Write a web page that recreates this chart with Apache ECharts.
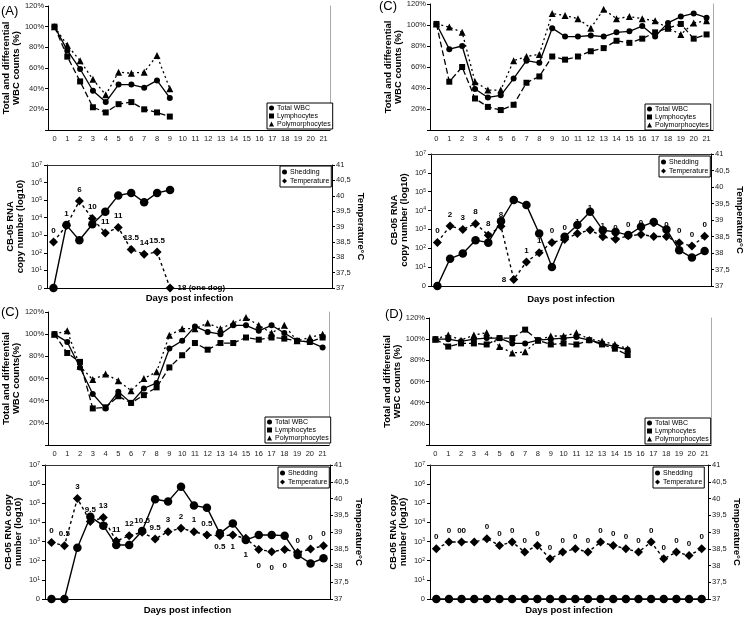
<!DOCTYPE html>
<html><head><meta charset="utf-8">
<script src="https://cdn.jsdelivr.net/npm/echarts@6/dist/echarts.min.js"></script>
<style>html,body{margin:0;padding:0;background:#fff}#c{width:746px;height:620px}</style>
</head><body><div id="c"></div>
<script>
// ---------- DATA ----------
const days = ['0','1','2','3','4','5','6','7','8','9','10','11','12','13','14','15','16','17','18','19','20','21'];
const wbcNames = ['Total WBC','Lymphocytes','Polymorphocytes'];
const rnaNames = ['Shedding','Temperature'];

// Panel (A)
const aTotalWBC = [100,77,59,38,27,44,44,41,48,31];
const aLympho   = [100,71,47,22,17,25,27,20,17,13];
const aPoly     = [100,82,67,49,34,56,55,56,72,40];
const aShedLog  = [0,3.58,2.72,3.63,4.34,5.27,5.41,4.88,5.41,5.58];
const aTemp     = [38.5,39.03,39.83,39.26,38.79,38.97,38.25,38.1,38.17,37.0];
const aTempLbl  = ['0','1','6','10','11','11','13.5','14','15.5','18 (one dog)'];

// Panel (C) top right
const c1TotalWBC = [101,77,80,39,31,33,49,66,64,97,89,89,90,89,93,94,99,89,102,108,111,107];
const c1Lympho   = [101,46,60,30,22,19,24,45,51,70,67,70,75,78,85,83,87,93,97,101,87,91];
const c1Poly     = [101,98,93,46,38,38,66,70,72,111,109,106,97,115,106,108,106,104,97,91,102,104];
const c1ShedLog  = [0,1.45,1.72,2.43,2.30,3.44,4.56,4.29,2.78,1.01,2.61,3.23,3.94,2.96,2.87,2.70,3.14,3.40,3.0,1.90,1.51,1.85];
const c1Temp     = [38.32,38.82,38.71,38.89,38.54,38.81,37.2,37.73,38.01,38.32,38.41,38.59,38.70,38.49,38.42,38.52,38.56,38.5,38.5,38.31,38.21,38.51];
const c1TempLbl  = ['0','2','3','8','8','8','8','1','1','0','0','1','1','1','0','0','0','0','0','0','0','0'];

// Panel (C) bottom left
const c2TotalWBC = [100,93,70,46,33,48,38,51,56,87,94,107,102,100,108,108,103,108,101,94,93,88];
const c2Lympho   = [100,83,75,33,34,44,38,45,52,70,81,92,86,92,92,97,95,97,96,94,93,97];
const c2Poly     = [100,103,71,59,64,58,49,60,66,99,105,105,110,105,110,115,108,101,108,94,97,100];
const c2ShedLog  = [0,0,2.68,4.30,3.83,2.82,2.82,3.55,5.21,5.09,5.87,4.88,4.77,3.43,3.95,3.08,3.34,3.34,3.31,2.30,1.86,2.13];
const c2Temp     = [38.69,38.59,40.0,39.31,39.43,38.73,38.89,38.99,38.79,39.01,39.11,39.01,38.91,38.89,38.91,38.81,38.48,38.41,38.48,38.39,38.49,38.59];
const c2TempLbl  = ['0','0.5','3','9.5','13','11','12','10.5','9.5','3','2','1','0.5','0.5','1','1','0','0','0','0','0','0'];

// Panel (D)
const dTotalWBC = [100,100,98,100,101,101,96,96,99,100,101,102,99,96,93,90];
const dLympho   = [100,93,96,96,95,101,101,109,99,95,96,95,99,95,91,85];
const dPoly     = [100,104,99,104,106,93,87,88,99,103,103,106,100,98,95,91];
const dShedLog  = [0,0,0,0,0,0,0,0,0,0,0,0,0,0,0,0,0,0,0,0,0,0];
const dTemp     = [38.5,38.7,38.7,38.7,38.8,38.6,38.7,38.4,38.6,38.2,38.4,38.5,38.4,38.7,38.6,38.5,38.4,38.7,38.2,38.4,38.3,38.5];
const dTempLbl  = ['0','0','00','','0','0','0','0','0','0','0','0','0','0','0','0','0','0','0','0','0','0'];

// ---------- CHART ----------
const FONT = '"Liberation Sans", Arial, sans-serif';
const option = {animation:false, backgroundColor:'#fff', textStyle:{fontFamily:FONT},
  grid:[], xAxis:[], yAxis:[], series:[], legend:[], graphic:[]};

const tickLbl = {fontSize:7.5, color:'#222', fontFamily:FONT};

function addWBC(box, total, lymph, poly, yName, lg) {
  const gi = option.grid.length;
  option.grid.push({left:box[0], top:box[1], width:box[2], height:box[3]});
  const xi = option.xAxis.length;
  option.xAxis.push({gridIndex:gi, type:'category', data:days, boundaryGap:true,
    axisLine:{lineStyle:{color:'#000', width:1}}, axisTick:{length:3, lineStyle:{color:'#000'}},
    axisLabel:Object.assign({margin:5, interval:0}, tickLbl)});
  const yi = option.yAxis.length;
  option.yAxis.push({gridIndex:gi, type:'value', min:0, max:120, interval:20,
    axisLine:{show:true, lineStyle:{color:'#000'}}, axisTick:{show:true, length:3, lineStyle:{color:'#000'}},
    splitLine:{show:false},
    axisLabel:Object.assign({margin:4, formatter:v => v === 0 ? '' : v + '%'}, tickLbl),
    name:yName, nameLocation:'middle', nameRotate:90, nameGap:19,
    nameTextStyle:{fontWeight:'bold', fontSize:9.5, lineHeight:10, color:'#000', fontFamily:FONT}});
  option.yAxis.push({gridIndex:gi, type:'value', position:'right', min:0, max:120,
    axisLine:{show:true, lineStyle:{color:'#aaa'}}, axisTick:{show:false}, axisLabel:{show:false}, splitLine:{show:false}});
  const common = {type:'line', xAxisIndex:xi, yAxisIndex:yi, color:'#000', z:3, showAllSymbol:true};
  option.series.push(Object.assign({name:wbcNames[0], data:total, symbol:'circle', symbolSize:6,
    lineStyle:{color:'#000', width:1.3, type:'solid'}, itemStyle:{color:'#000'}}, common));
  option.series.push(Object.assign({name:wbcNames[1], data:lymph, symbol:'rect', symbolSize:6,
    lineStyle:{color:'#000', width:1.3, type:[6,3]}, itemStyle:{color:'#000'}}, common));
  option.series.push(Object.assign({name:wbcNames[2], data:poly, symbol:'triangle', symbolSize:7,
    lineStyle:{color:'#000', width:1.3, type:[2,3]}, itemStyle:{color:'#000'}}, common));
  option.legend.push({orient:'vertical', left:lg[0], top:lg[1], padding:[1,2,1,2], itemGap:0,
    itemWidth:5, itemHeight:5, borderColor:'#000', borderWidth:1, backgroundColor:'#fff',
    textStyle:{fontSize:7, lineHeight:8, color:'#000', fontFamily:FONT, padding:[0,0,0,-2]},
    data:[{name:wbcNames[0], icon:'circle'},{name:wbcNames[1], icon:'rect'},{name:wbcNames[2], icon:'triangle'}],
    selectedMode:false});
}

function addRNA(box, shed, temp, tempLbl, lblPos, yName, xGap, lg) {
  const gi = option.grid.length;
  option.grid.push({left:box[0], top:box[1], width:box[2], height:box[3]});
  const xi = option.xAxis.length;
  option.xAxis.push({gridIndex:gi, type:'category', data:days, boundaryGap:true,
    axisLine:{lineStyle:{color:'#000'}}, axisTick:{show:false}, axisLabel:{show:false},
    name:'Days post infection', nameLocation:'middle', nameGap:xGap,
    nameTextStyle:{fontWeight:'bold', fontSize:9.5, color:'#000', fontFamily:FONT, verticalAlign:'top'}});
  option.xAxis.push({gridIndex:gi, type:'category', data:days, boundaryGap:true, position:'top',
    axisLine:{lineStyle:{color:'#333'}}, axisTick:{inside:true, length:3, lineStyle:{color:'#333'}}, axisLabel:{show:false}});
  const yi = option.yAxis.length;
  option.yAxis.push({gridIndex:gi, type:'value', min:0, max:7, interval:1,
    axisLine:{show:true, lineStyle:{color:'#000'}}, axisTick:{show:true, length:3, lineStyle:{color:'#000'}},
    splitLine:{show:false},
    axisLabel:Object.assign({margin:5, formatter:v => v === 0 ? '0' : '10{s|' + v + '}',
      rich:{s:{fontSize:5, verticalAlign:'top', lineHeight:6, color:'#222'}}}, tickLbl),
    name:yName, nameLocation:'middle', nameRotate:90, nameGap:22,
    nameTextStyle:{fontWeight:'bold', fontSize:9.5, lineHeight:10, color:'#000', fontFamily:FONT}});
  option.yAxis.push({gridIndex:gi, type:'value', position:'right', min:37, max:41, interval:0.5,
    axisLine:{show:true, lineStyle:{color:'#000'}}, axisTick:{show:true, length:3, lineStyle:{color:'#000'}},
    splitLine:{show:false},
    axisLabel:Object.assign({margin:4, formatter:v => String(v).replace('.', ',')}, tickLbl),
    name:'Temperature°C', nameLocation:'middle', nameRotate:-90, nameGap:24,
    nameTextStyle:{fontWeight:'bold', fontSize:9.5, color:'#000', fontFamily:FONT}});
  option.series.push({name:rnaNames[0], type:'line', xAxisIndex:xi, yAxisIndex:yi, data:shed, showAllSymbol:true,
    symbol:'circle', symbolSize:8.5, lineStyle:{color:'#000', width:1.4}, itemStyle:{color:'#000'}, z:3});
  const tdata = temp.map((t, i) => {
    const o = {value:t};
    if (lblPos[i]) o.label = lblPos[i];
    return o;
  });
  option.series.push({name:rnaNames[1], type:'line', xAxisIndex:xi, yAxisIndex:yi + 1, data:tdata, showAllSymbol:true,
    symbol:'diamond', symbolSize:9, lineStyle:{color:'#000', width:1.4, type:[3,3]}, itemStyle:{color:'#000'}, z:4,
    label:{show:true, position:'top', distance:3, fontSize:8, fontWeight:'bold', color:'#000', fontFamily:FONT,
      formatter:p => tempLbl[p.dataIndex]}});
  option.legend.push({orient:'vertical', left:lg[0], top:lg[1], padding:[2,2,2,2], itemGap:1,
    itemWidth:5, itemHeight:5, borderColor:'#000', borderWidth:1, backgroundColor:'#fff',
    textStyle:{fontSize:7, lineHeight:8, color:'#000', fontFamily:FONT, padding:[0,0,0,-2]},
    data:[{name:rnaNames[0], icon:'circle'},{name:rnaNames[1], icon:'diamond'}], selectedMode:false});
}

// label placement overrides (styling only)
const posA = {9:{position:'right'}};
const posC1 = {6:{position:'left'}, 12:{position:'top', distance:14}};
const posC2 = {13:{position:'bottom'},14:{position:'bottom'},15:{position:'bottom', distance:8},
  16:{position:'bottom', distance:8},17:{position:'bottom', distance:8},18:{position:'bottom', distance:8}};
const posD = {};

addWBC([48,6,282,124], aTotalWBC, aLympho, aPoly, 'Total and differential\nWBC counts (%)', [267,103]);
addRNA([47,165,285,123], aShedLog, aTemp, aTempLbl, posA, 'CB-05 RNA\ncopy number (log10)', 5, [280,166]);
addWBC([430,4,283,126], c1TotalWBC, c1Lympho, c1Poly, 'Total and differential\nWBC counts (%)', [645,104]);
addRNA([431,154,280,132], c1ShedLog, c1Temp, c1TempLbl, posC1, 'CB-05 RNA\ncopy number (log10)', 8, [659,156]);
addWBC([45,312,284,133], c2TotalWBC, c2Lympho, c2Poly, 'Total and differential\nWBC counts(%)', [265,417]);
addRNA([45,465,285,134], c2ShedLog, c2Temp, c2TempLbl, posC2, 'CB-05 RNA copy\nnumber (log10)', 6, [278,467]);
addWBC([429,318,282,127], dTotalWBC, dLympho, dPoly, 'Total and differential\nWBC counts (%)', [645,418]);
addRNA([430,465,278,134], dShedLog, dTemp, dTempLbl, posD, 'CB-05 RNA copy\nnumber (log10)', 6, [653,467]);

const panelTxt = [['(A)',1,5],['(C)',379,0],['(C)',1,306],['(D)',385,308]];
panelTxt.forEach(p => option.graphic.push({type:'text', left:p[1], top:p[2],
  style:{text:p[0], font:'13px ' + FONT, fill:'#000'}}));

const chart = echarts.init(document.getElementById('c'));
chart.setOption(option);
</script></body></html>
